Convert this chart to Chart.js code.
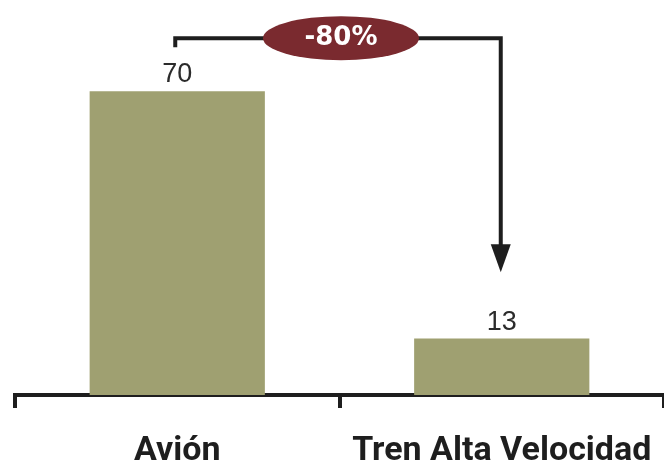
<!DOCTYPE html>
<html>
<head>
<meta charset="utf-8">
<script src="https://cdn.jsdelivr.net/npm/chart.js@4"></script>
<style>
  html, body { margin: 0; padding: 0; background: #fff; }
  #wrap { width: 664px; height: 467px; }
</style>
</head>
<body>
<div id="wrap"><canvas id="chart"></canvas></div>
<script>
const categories = ['Avión', 'Tren Alta Velocidad'];
const values = [70, 13];
const changeLabel = '-80%';

const barColor = '#9fa071';

// value labels above bars + the connector arrow with the % badge
const annotate = {
  id: 'annotate',
  afterDatasetsDraw(chart) {
    const c = chart.ctx;
    const meta = chart.getDatasetMeta(0);
    const y = chart.scales.y;

    c.save();
    c.fillStyle = '#2b2b2b';
    c.font = '27px "Liberation Sans", Arial, sans-serif';
    c.textAlign = 'center';
    c.textBaseline = 'alphabetic';
    meta.data.forEach((bar, i) => {
      c.fillText(String(values[i]), bar.x, bar.y - 9);
    });

    // connector
    const x1 = meta.data[0].x - 2, x2 = meta.data[1].x - 1;
    const lineY = y.getPixelForValue(82.2);
    const arrowTip = y.getPixelForValue(28.3);
    c.strokeStyle = '#1e1e1e';
    c.lineWidth = 4;
    c.beginPath();
    c.moveTo(x1, lineY + 9);
    c.lineTo(x1, lineY);
    c.lineTo(x2, lineY);
    c.lineTo(x2, arrowTip - 24);
    c.stroke();
    c.fillStyle = '#1e1e1e';
    c.beginPath();
    c.moveTo(x2 - 10, arrowTip - 28);
    c.lineTo(x2 + 10, arrowTip - 28);
    c.lineTo(x2, arrowTip);
    c.closePath();
    c.fill();

    // badge
    const cx = (x1 + x2) / 2 + 3;
    c.fillStyle = '#7a2a2f';
    c.beginPath();
    c.ellipse(cx, lineY, 78, 22, 0, 0, Math.PI * 2);
    c.fill();
    c.fillStyle = '#fff';
    c.font = 'bold 26px "DejaVu Sans", sans-serif';
    c.textBaseline = 'middle';
    c.fillText(changeLabel, cx, lineY);
    c.restore();
  }
};

new Chart(document.getElementById('chart'), {
  type: 'bar',
  data: {
    labels: categories,
    datasets: [{
      data: values,
      backgroundColor: barColor,
      borderWidth: 0,
      barPercentage: 0.54,
      categoryPercentage: 1
    }]
  },
  options: {
    responsive: true,
    maintainAspectRatio: false,
    animation: false,
    layout: { padding: { left: 15, right: 0, top: 0, bottom: 0 } },
    plugins: { legend: { display: false }, tooltip: { enabled: false } },
    scales: {
      x: {
        offset: true,
        afterFit(scale) {
          scale.height = 72;
          scale.paddingLeft = 0;
          scale.paddingRight = 0;
        },
        grid: {
          offset: true,
          drawOnChartArea: false,
          drawTicks: true,
          tickLength: 13,
          tickWidth: 4,
          tickColor: '#1e1e1e',
          color: '#1e1e1e',
          lineWidth: 4
        },
        border: { display: true, color: '#1e1e1e', width: 4 },
        ticks: {
          color: '#1e1e1e',
          padding: 23,
          maxRotation: 0,
          autoSkip: false,
          font: { family: 'Roboto, sans-serif', weight: 'bold', size: 34 }
        }
      },
      y: {
        display: false,
        min: 0,
        max: 91
      }
    }
  },
  plugins: [annotate]
});
</script>
</body>
</html>
